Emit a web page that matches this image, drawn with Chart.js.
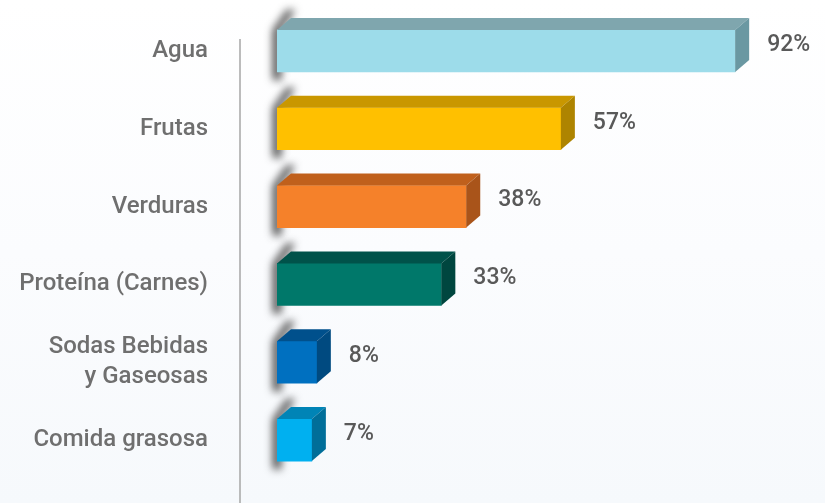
<!DOCTYPE html>
<html>
<head>
<meta charset="utf-8">
<script src="https://cdn.jsdelivr.net/npm/chart.js@4"></script>
<style>
  html, body { margin: 0; padding: 0; }
  body { width: 825px; height: 503px; background: linear-gradient(to bottom, #ffffff 0%, #fbfcfe 50%, #f6f9fc 100%); }
  canvas { display: block; }
</style>
</head>
<body>
<canvas id="foodChart" width="825" height="503"></canvas>
<script>
const categories = ['Agua', 'Frutas', 'Verduras', 'Proteína (Carnes)', ['Sodas Bebidas', 'y Gaseosas'], 'Comida grasosa'];
const percentages = [92, 57, 38, 33, 8, 7];

// front, top and side colours of every box
const frontColors = ['#9ddcea', '#ffc000', '#f5812a', '#00786a', '#0070c0', '#00b0f0'];
const topColors = ['#7fa6ae', '#c99700', '#c0601c', '#00524a', '#00508c', '#0084b6'];
const sideColors = ['#6a98a2', '#ae8400', '#a9541a', '#00463f', '#004a80', '#006e99'];

const depthX = 14;
const depthY = 12;

const boxes3d = {
  id: 'boxes3d',
  beforeDatasetsDraw(chart) {
    const ctx = chart.ctx;
    const area = chart.chartArea;
    // the thin vertical axis line
    ctx.save();
    ctx.strokeStyle = '#a6a6a6';
    ctx.lineWidth = 1.5;
    ctx.beginPath();
    ctx.moveTo(area.left - 37, 39);
    ctx.lineTo(area.left - 37, 503);
    ctx.stroke();
    ctx.restore();

    // soft shadow along the left edge of each box
    chart.getDatasetMeta(0).data.forEach(bar => {
      const x0 = bar.base;
      const top = bar.y - bar.height / 2;
      const bottom = bar.y + bar.height / 2;
      ctx.save();
      ctx.filter = 'blur(4px)';
      ctx.fillStyle = 'rgba(30,30,30,0.85)';
      ctx.beginPath();
      ctx.moveTo(x0 - 4, bottom + 8);
      ctx.lineTo(x0 - 4, top);
      ctx.lineTo(x0 + depthX - 4, top - depthY - 8);
      ctx.lineTo(x0 + depthX + 4, top - depthY - 8);
      ctx.lineTo(x0 + 4, top);
      ctx.lineTo(x0 + 4, bottom + 8);
      ctx.closePath();
      ctx.fill();
      ctx.restore();
    });
  },
  afterDatasetsDraw(chart) {
    const ctx = chart.ctx;
    chart.getDatasetMeta(0).data.forEach((bar, i) => {
      const x0 = bar.base;
      const x1 = bar.x;
      const top = bar.y - bar.height / 2;
      const bottom = bar.y + bar.height / 2;
      ctx.save();
      ctx.fillStyle = topColors[i];
      ctx.beginPath();
      ctx.moveTo(x0, top);
      ctx.lineTo(x0 + depthX, top - depthY);
      ctx.lineTo(x1 + depthX, top - depthY);
      ctx.lineTo(x1, top);
      ctx.closePath();
      ctx.fill();

      ctx.fillStyle = sideColors[i];
      ctx.beginPath();
      ctx.moveTo(x1, top);
      ctx.lineTo(x1 + depthX, top - depthY);
      ctx.lineTo(x1 + depthX, bottom - depthY);
      ctx.lineTo(x1, bottom);
      ctx.closePath();
      ctx.fill();

      ctx.fillStyle = '#595959';
      ctx.font = '500 23px Roboto';
      ctx.textAlign = 'left';
      ctx.textBaseline = 'middle';
      ctx.fillText(percentages[i] + '%', x1 + depthX + 18, bar.y - 6);
      ctx.restore();
    });
  }
};

const ctx = document.getElementById('foodChart');

const config = {
  type: 'bar',
  data: {
    labels: categories,
    datasets: [
      {
        data: percentages,
        backgroundColor: (c) => {
          if (c.dataIndex === 0 && c.chart.chartArea) {
            const bar = c.chart.getDatasetMeta(0).data[0];
            if (bar && bar.y) {
              const g = c.chart.ctx.createLinearGradient(0, bar.y - 21, 0, bar.y + 21);
              g.addColorStop(0, '#a9e2ee');
              g.addColorStop(1, '#8ed2e3');
              return g;
            }
          }
          return frontColors[c.dataIndex];
        },
        borderWidth: 0,
        barThickness: 42
      }
    ]
  },
  options: {
    indexAxis: 'y',
    responsive: false,
    animation: false,
    layout: {
      padding: { left: 0, right: 50, top: 12, bottom: 24 }
    },
    plugins: {
      legend: { display: false },
      tooltip: { enabled: false }
    },
    scales: {
      x: {
        display: false,
        min: 0,
        max: 100
      },
      y: {
        grid: { display: false, drawTicks: false },
        border: { display: false },
        afterFit: (scale) => {
          scale.width = 277;
          scale.paddingTop = 0;
          scale.paddingBottom = 0;
        },
        ticks: {
          padding: 69,
          color: '#6f6f6f',
          font: { family: 'Roboto', size: 24, weight: '500', lineHeight: 1.25 }
        }
      }
    }
  },
  plugins: [boxes3d]
};

const foodChart = new Chart(ctx, config);
</script>
</body>
</html>
